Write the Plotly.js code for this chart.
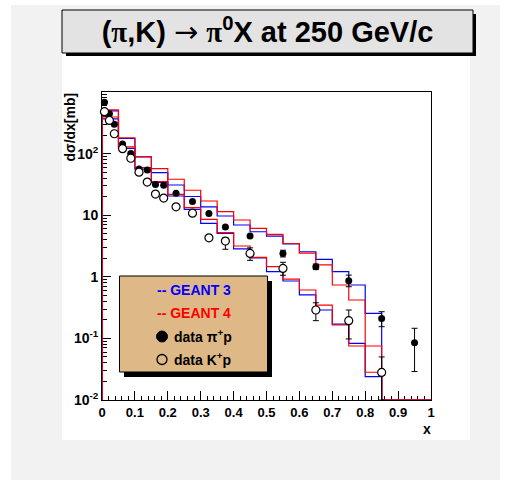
<!DOCTYPE html>
<html>
<head>
<meta charset="utf-8">
<script src="https://cdn.plot.ly/plotly-2.35.2.min.js"></script>
<style>
  html, body { margin: 0; padding: 0; background: #ffffff; }
  #chart { width: 515px; height: 487px; }
</style>
</head>
<body>
<div id="chart"></div>
<script>
// ---------- data ----------
// histogram bin edges (bins of width 0.05 from 0 to 1)
const binEdges = [0, 0.05, 0.1, 0.15, 0.2, 0.25, 0.3, 0.35, 0.4, 0.45, 0.5,
                  0.55, 0.6, 0.65, 0.7, 0.75, 0.8, 0.85, 0.9, 0.95, 1.0];
// simulated d(sigma)/dx [mb] per bin
const geant3Pi = [492, 176, 88, 49, 30.9, 20.1, 13.7, 9.7, 6.93, 5.39, 4.59,
                  3.41, 2.55, 1.92, 1.21, 0.736, 0.255, 0, 0, 0];
const geant4Pi = [511, 181, 89, 57, 38.3, 25.4, 17.0, 11.4, 8.36, 6.12, 4.87,
                  3.47, 2.43, 1.56, 0.736, 0.42, 0.0753, 0, 0, 0];
const geant3K  = [365, 122, 56, 34.2, 20.5, 12.4, 7.39, 5.08, 2.83, 2.02, 1.21,
                  0.855, 0.507, 0.289, 0.171, 0.0832, 0.024, 0, 0, 0];
const geant4K  = [393, 129, 59, 35, 21.8, 13.3, 8.57, 5.2, 3.16, 2.06, 1.46,
                  0.92, 0.61, 0.348, 0.165, 0.0753, 0.0282, 0, 0, 0];

// measured data
const xPi   = [0.0075, 0.0225, 0.0375, 0.0625, 0.0875, 0.1125, 0.1375, 0.1625, 0.1875,
               0.225, 0.275, 0.325, 0.375, 0.45, 0.55, 0.65, 0.75, 0.85, 0.95];
const dataPi = [680, 445, 300, 143, 100, 56, 54, 31.5, 30.5,
                22.7, 16.7, 10.7, 6.45, 4.6, 2.4, 1.46, 0.865, 0.21, 0.085];
const errPiUp = [0, 0, 0, 0, 0, 0, 0, 0, 0, 0, 0, 0, 0, 0, 0.3, 0.15, 0.2, 0.061, 0.061];
const errPiDn = [0, 0, 0, 0, 0, 0, 0, 0, 0, 0, 0, 0, 0, 0, 0.3, 0.15, 0.175, 0.055, 0.056];

const xK    = [0.0075, 0.0225, 0.0375, 0.0625, 0.0875, 0.1125, 0.1375, 0.1625, 0.1875,
               0.225, 0.275, 0.325, 0.375, 0.45, 0.55, 0.65, 0.75, 0.85];
const dataK = [480, 345, 210, 120, 84, 50, 34.5, 22, 19,
               13.7, 10.8, 4.3, 3.8, 2.4, 1.37, 0.289, 0.194, 0.028];
const errKUp = [0, 0, 0, 0, 0, 0, 0, 0, 0, 0, 0, 0, 0.5, 0.55, 0.35, 0.09, 0.095, 0.022];
const errKDn = [0, 0, 0, 0, 0, 0, 0, 0, 0, 0, 0, 0, 1.0, 0.55, 0.31, 0.095, 0.096, 0.018];

// axis ticks
const xTickVals = [0, 0.1, 0.2, 0.3, 0.4, 0.5, 0.6, 0.7, 0.8, 0.9, 1];
const xTickText = ['0', '0.1', '0.2', '0.3', '0.4', '0.5', '0.6', '0.7', '0.8', '0.9', '1'];
const yTickVals = [0.01, 0.1, 1, 10, 100];
const yTickText = ['10<sup>-2</sup>', '10<sup>-1</sup>', '1', '10', '10<sup>2</sup>'];

// ---------- helpers ----------
const Y_MIN_LOG = -2, Y_MAX_LOG = 3;
const yFloor = Math.pow(10, Y_MIN_LOG);

function histTrace(values, color) {
  // step outline, ROOT style: rises from the axis floor at the first edge
  const xs = [binEdges[0]];
  const ys = [yFloor];
  for (let i = 0; i < values.length; i++) {
    xs.push(binEdges[i]);
    ys.push(values[i] > 0 ? values[i] : yFloor);
  }
  xs.push(binEdges[binEdges.length - 1]);
  ys.push(yFloor);
  return {
    type: 'scatter', mode: 'lines', x: xs, y: ys,
    line: { shape: 'hv', color: color, width: 1.2 },
    hoverinfo: 'skip', showlegend: false
  };
}

// minor log ticks
const minorY = [];
for (let e = Y_MIN_LOG; e < Y_MAX_LOG; e++) {
  for (let m = 2; m <= 9; m++) minorY.push(m * Math.pow(10, e));
}

// pixel -> paper conversion for decorations (plot area 102..431 x 92..400)
const L = 102, R = 431, T = 92, B = 400;
const px = v => (v - L) / (R - L);
const py = v => (B - v) / (B - T);

const FONT = 'Liberation Sans, Arial, Helvetica, sans-serif';

const traces = [
  histTrace(geant3Pi, '#0000ff'),
  histTrace(geant3K, '#0000ff'),
  histTrace(geant4Pi, '#ff0000'),
  histTrace(geant4K, '#ff0000'),
  {
    type: 'scatter', mode: 'markers', x: xPi, y: dataPi,
    error_y: { type: 'data', symmetric: false, array: errPiUp, arrayminus: errPiDn,
               color: '#000000', thickness: 1, width: 3 },
    marker: { symbol: 'circle', size: 7, color: '#000000' },
    showlegend: false, cliponaxis: false
  },
  {
    type: 'scatter', mode: 'markers', x: xK, y: dataK,
    error_y: { type: 'data', symmetric: false, array: errKUp, arrayminus: errKDn,
               color: '#000000', thickness: 1, width: 3 },
    marker: { symbol: 'circle', size: 8, color: '#ffffff',
              line: { color: '#000000', width: 1.2 } },
    showlegend: false, cliponaxis: false
  }
];

const shapes = [
  // canvas grey panel
  { type: 'rect', xref: 'paper', yref: 'paper', layer: 'below',
    x0: px(11), x1: px(500), y0: py(480), y1: py(5),
    fillcolor: '#f2f2f2', line: { width: 0 } },
  // white pad
  { type: 'rect', xref: 'paper', yref: 'paper', layer: 'below',
    x0: px(62), x1: px(470), y0: py(440), y1: py(12),
    fillcolor: '#ffffff', line: { width: 0 } },
  // title shadow
  { type: 'rect', xref: 'paper', yref: 'paper', layer: 'below',
    x0: px(66), x1: px(476), y0: py(56), y1: py(14),
    fillcolor: '#000000', line: { width: 0 } },
  // title box
  { type: 'rect', xref: 'paper', yref: 'paper', layer: 'below',
    x0: px(62), x1: px(473), y0: py(53), y1: py(10),
    fillcolor: '#e3e3e3', line: { color: '#000000', width: 1 } },
  // legend shadow
  { type: 'rect', xref: 'paper', yref: 'paper', layer: 'above',
    x0: px(124), x1: px(272), y0: py(377), y1: py(281),
    fillcolor: '#000000', line: { width: 0 } },
  // legend box
  { type: 'rect', xref: 'paper', yref: 'paper', layer: 'above',
    x0: px(119.5), x1: px(267.5), y0: py(372), y1: py(276),
    fillcolor: '#deb887', line: { color: '#000000', width: 1 } },
  // legend filled marker
  { type: 'circle', xref: 'paper', yref: 'paper', layer: 'above',
    xsizemode: 'pixel', ysizemode: 'pixel',
    xanchor: px(162), yanchor: py(336.5), x0: -5.5, x1: 5.5, y0: -5.5, y1: 5.5,
    fillcolor: '#000000', line: { color: '#000000', width: 1 } },
  // legend open marker
  { type: 'circle', xref: 'paper', yref: 'paper', layer: 'above',
    xsizemode: 'pixel', ysizemode: 'pixel',
    xanchor: px(162), yanchor: py(359.5), x0: -5, x1: 5, y0: -5, y1: 5,
    fillcolor: '#deb887', line: { color: '#000000', width: 1.3 } }
];

function note(x, y, text, opts) {
  return Object.assign({
    xref: 'paper', yref: 'paper', x: px(x), y: py(y), text: text,
    xanchor: 'left', yanchor: 'middle', showarrow: false,
    font: { family: FONT, size: 14, color: '#000000', weight: 700 }
  }, opts || {});
}

const annotations = [
  note(69.5, 127, 'd\u03c3/dx[mb]', { xanchor: 'center', textangle: -90,
    font: { family: FONT, size: 14, color: '#000000', weight: 700 } }),
  note(427, 429, 'x', { xanchor: 'center',
    font: { family: FONT, size: 14, color: '#000000', weight: 700 } }),
  note(155, 289.5, '-- GEANT 3', { font: { family: FONT, size: 14, color: '#0000ff', weight: 700 } }),
  note(155, 312.5, '-- GEANT 4', { font: { family: FONT, size: 14, color: '#ff0000', weight: 700 } }),
  note(171.5, 336, 'data \u03c0<sup>+</sup>p'),
  note(171.5, 358.5, 'data K<sup>+</sup>p')
];

const layout = {
  width: 515, height: 487,
  margin: { l: L, r: 515 - R, t: T, b: 487 - B, pad: 0 },
  paper_bgcolor: '#ffffff',
  plot_bgcolor: 'rgba(0,0,0,0)',
  showlegend: false,
  title: {
    text: '(<span style="font-family:\'Liberation Serif\'">\u03c0</span>,K) ' +
          '<span style="font-family:\'DejaVu Sans\';font-weight:normal">\u2192</span> ' +
          '<span style="font-family:\'Liberation Serif\'">\u03c0</span><sup>0</sup>X at 250 GeV/c',
    xref: 'container', yref: 'container',
    x: 267.5 / 515, y: 1 - 32 / 487, xanchor: 'center', yanchor: 'middle',
    font: { family: FONT, size: 29, color: '#000000', weight: 700 }
  },
  xaxis: {
    range: [0, 1], showgrid: false, zeroline: false,
    showline: true, linecolor: '#000000', linewidth: 1, mirror: true,
    ticks: 'inside', ticklen: 9, tickwidth: 1, tickcolor: '#000000',
    tickmode: 'array', tickvals: xTickVals, ticktext: xTickText,
    tickfont: { family: FONT, size: 13, color: '#000000', weight: 700 },
    minor: { ticks: 'inside', ticklen: 4, tickcolor: '#000000', tick0: 0, dtick: 0.02, showgrid: false },
    layer: 'below traces'
  },
  yaxis: {
    type: 'log', range: [Y_MIN_LOG, Y_MAX_LOG], showgrid: false, zeroline: false,
    showline: true, linecolor: '#000000', linewidth: 1, mirror: true,
    ticks: 'inside', ticklen: 9, tickwidth: 1, tickcolor: '#000000',
    tickmode: 'array', tickvals: yTickVals, ticktext: yTickText,
    tickfont: { family: FONT, size: 14, color: '#000000', weight: 700 },
    minor: { ticks: 'inside', ticklen: 5, tickcolor: '#000000', tickmode: 'array', tickvals: minorY, showgrid: false },
    layer: 'below traces'
  },
  shapes: shapes,
  annotations: annotations
};

Plotly.newPlot('chart', traces, layout, { staticPlot: true, displayModeBar: false });
</script>
</body>
</html>
